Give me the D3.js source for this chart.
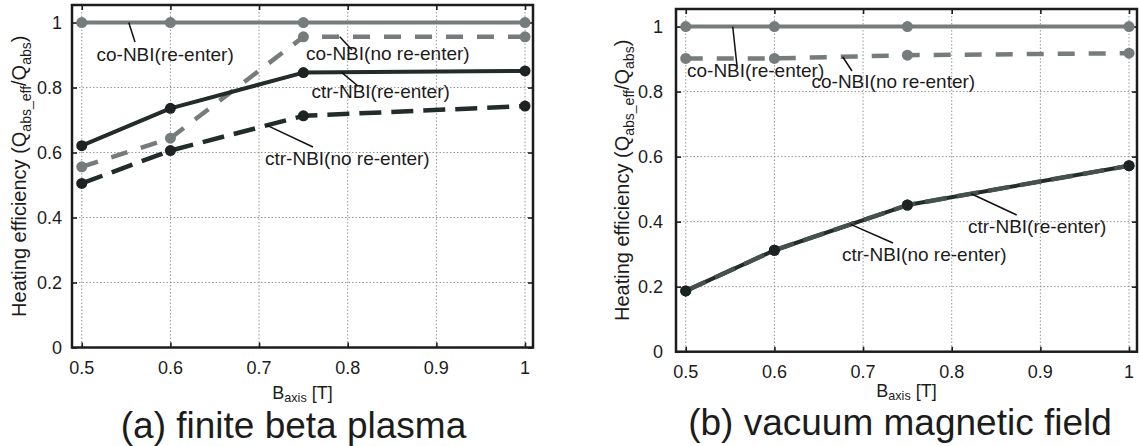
<!DOCTYPE html>
<html>
<head>
<meta charset="utf-8">
<script src="https://cdn.jsdelivr.net/npm/d3@7/dist/d3.min.js"></script>
<style>
  body { margin: 0; background: #fff; }
  svg { display: block; }
  text { font-family: "Liberation Sans", Arial, Helvetica, sans-serif; fill: #1c1c1c; }
</style>
</head>
<body>
<svg id="chart" width="1139" height="446"></svg>
<script>
// Magnetic field strength on axis [T] at which each case was computed
const fieldB = [0.5, 0.6, 0.75, 1.0];

// Axis ticks
const xTickValues = [0.5, 0.6, 0.7, 0.8, 0.9, 1];
const xTickLabels = ["0.5", "0.6", "0.7", "0.8", "0.9", "1"];
const yTickValues = [0, 0.2, 0.4, 0.6, 0.8, 1];
const yTickLabels = ["0", "0.2", "0.4", "0.6", "0.8", "1"];

const seriesNames = ["co-NBI(re-enter)", "co-NBI(no re-enter)", "ctr-NBI(re-enter)", "ctr-NBI(no re-enter)"];

// (a) finite beta plasma — heating efficiency Q_abs_eff / Q_abs
const finiteCoReenter   = [1.0, 1.0, 1.0, 1.0];
const finiteCoNoReenter = [0.556, 0.644, 0.956, 0.956];
const finiteCtrReenter  = [0.621, 0.736, 0.846, 0.851];
const finiteCtrNoReenter = [0.505, 0.606, 0.713, 0.743];

// (b) vacuum magnetic field
const vacuumCoReenter   = [1.0, 1.0, 1.0, 1.0];
const vacuumCoNoReenter = [0.902, 0.902, 0.912, 0.918];
const vacuumCtrReenter  = [0.187, 0.312, 0.451, 0.572];
const vacuumCtrNoReenter = [0.187, 0.312, 0.451, 0.572];

const captions = ["(a) finite beta plasma", "(b) vacuum magnetic field"];

// Line styles per series (same order as seriesNames)
const GRAY = "#767c7c", DARK = "#222c2b";
const seriesStyle = [
  { color: GRAY, width: 4,   dash: null },
  { color: GRAY, width: 4.5, dash: "17,14" },
  { color: DARK, width: 4,   dash: null },
  { color: DARK, width: 4.5, dash: "22,10" }
];

// Panel layout; label leaders start on a series at a given B and end at a pixel point
const panels = [
  {
    box: { left: 72, top: 5, right: 533, bottom: 347.5 },
    series: [finiteCoReenter, finiteCoNoReenter, finiteCtrReenter, finiteCtrNoReenter],
    caption: captions[0], capX: 293.5, capY: 438,
    xTitleY: 398.5, yTitleX: 26, yTickGap: 10,
    labels: [
      { s: 0, tx: 96.5, ty: 61,  at: 0.553, end: [135, 42] },
      { s: 1, tx: 306,  ty: 60,  at: 0.791, end: [352, 50] },
      { s: 2, tx: 311.5, ty: 98, at: 0.793, end: [358, 86] },
      { s: 3, tx: 265,  ty: 165, at: 0.709, end: [313, 147] }
    ]
  },
  {
    box: { left: 676, top: 9, right: 1137, bottom: 351.7 },
    series: [vacuumCoReenter, vacuumCoNoReenter, vacuumCtrReenter, vacuumCtrNoReenter],
    caption: captions[1], capX: 900, capY: 435,
    xTitleY: 396.5, yTitleX: 629, yTickGap: 13,
    labels: [
      { s: 0, tx: 687,   ty: 77,  at: 0.553, end: [737, 66] },
      { s: 1, tx: 811.5, ty: 88,  at: 0.677, end: [852, 71] },
      { s: 2, tx: 968,   ty: 233, at: 0.822, end: [1016.7, 215] },
      { s: 3, tx: 842,   ty: 261, at: 0.686, end: [893, 243] }
    ]
  }
];

const svg = d3.select("#chart");
svg.append("rect").attr("width", 1139).attr("height", 446).attr("fill", "#fff");

panels.forEach((p, pi) => {
  const b = p.box;
  const x = d3.scaleLinear().domain([0.489, 1.009]).range([b.left, b.right]);
  const y = d3.scaleLinear().domain([0, 1.054]).range([b.bottom, b.top]);
  const g = svg.append("g");
  const clipId = "clip" + pi;
  svg.append("clipPath").attr("id", clipId)
    .append("rect").attr("x", b.left).attr("y", b.top)
    .attr("width", b.right - b.left).attr("height", b.bottom - b.top);

  // dotted grid
  const grid = g.append("g").attr("stroke", "#8a8a8a").attr("stroke-width", 0.9)
    .attr("stroke-dasharray", "1.5,2");
  xTickValues.forEach(v => grid.append("line")
    .attr("x1", x(v)).attr("x2", x(v)).attr("y1", b.top).attr("y2", b.bottom));
  yTickValues.forEach(v => grid.append("line")
    .attr("x1", b.left).attr("x2", b.right).attr("y1", y(v)).attr("y2", y(v)));

  // inward ticks on all four sides
  const tickLen = 5;
  const bottomAxis = d3.axisBottom(x).tickValues(xTickValues).tickSize(-tickLen).tickFormat("");
  const topAxis = d3.axisTop(x).tickValues(xTickValues).tickSize(-tickLen).tickFormat("");
  const leftAxis = d3.axisLeft(y).tickValues(yTickValues).tickSize(-tickLen).tickFormat("");
  const rightAxis = d3.axisRight(y).tickValues(yTickValues).tickSize(-tickLen).tickFormat("");
  [[bottomAxis, `translate(0,${b.bottom})`], [topAxis, `translate(0,${b.top})`],
   [leftAxis, `translate(${b.left},0)`], [rightAxis, `translate(${b.right},0)`]].forEach(([ax, tr]) => {
    const a = g.append("g").attr("transform", tr).call(ax);
    a.select(".domain").remove();
    a.selectAll(".tick line").attr("stroke", "#1c1c1c").attr("stroke-width", 1.6);
  });

  // tick labels
  xTickValues.forEach((v, i) => g.append("text")
    .attr("x", x(v)).attr("y", b.bottom + 26).attr("text-anchor", "middle")
    .attr("font-size", 18).text(xTickLabels[i]));
  yTickValues.forEach((v, i) => g.append("text")
    .attr("x", b.left - p.yTickGap).attr("y", y(v) + 6.5).attr("text-anchor", "end")
    .attr("font-size", 18).text(yTickLabels[i]));

  // series
  const line = d3.line().x((d, i) => x(fieldB[i])).y(d => y(d));
  const lines = g.append("g").attr("clip-path", `url(#${clipId})`);
  p.series.forEach((vals, si) => {
    const st = seriesStyle[si];
    let color = st.color;
    // in the vacuum panel the two ctr curves coincide; the dashed one shows lighter on top
    if (pi === 1 && si === 3) color = "#46514f";
    lines.append("path").datum(vals)
      .attr("d", line).attr("fill", "none")
      .attr("stroke", color).attr("stroke-width", st.width)
      .attr("stroke-dasharray", st.dash)
      .attr("stroke-linejoin", "round");
    lines.selectAll(null).data(vals).enter().append("circle")
      .attr("cx", (d, i) => x(fieldB[i])).attr("cy", d => y(d)).attr("r", 5.5)
      .attr("fill", si < 2 ? GRAY : "#1d2222");
  });

  // frame
  g.append("rect").attr("x", b.left).attr("y", b.top)
    .attr("width", b.right - b.left).attr("height", b.bottom - b.top)
    .attr("fill", "none").attr("stroke", "#1c1c1c").attr("stroke-width", 2.5);

  // series labels with leader lines
  p.labels.forEach(l => {
    const interp = d3.scaleLinear().domain(fieldB).range(p.series[l.s]);
    g.append("line")
      .attr("x1", x(l.at)).attr("y1", y(interp(l.at)))
      .attr("x2", l.end[0]).attr("y2", l.end[1])
      .attr("stroke", "#111").attr("stroke-width", 1.5);
    g.append("text").attr("x", l.tx).attr("y", l.ty)
      .attr("font-size", 19).text(seriesNames[l.s]);
  });

  // axis titles
  const cx = (b.left + b.right) / 2, cy = (b.top + b.bottom) / 2;
  const xt = g.append("text").attr("x", cx).attr("y", p.xTitleY)
    .attr("text-anchor", "middle").attr("font-size", 18);
  xt.append("tspan").text("B");
  xt.append("tspan").attr("font-size", 12.6).attr("dy", 3.5).text("axis");
  xt.append("tspan").attr("dy", -3.5).text(" [T]");

  const yt = g.append("text").attr("transform", `translate(${p.yTitleX},${cy}) rotate(-90)`)
    .attr("text-anchor", "middle").attr("font-size", 20);
  yt.append("tspan").text("Heating efficiency (Q");
  yt.append("tspan").attr("font-size", 14).attr("dy", 4.5).text("abs_eff");
  yt.append("tspan").attr("dy", -4.5).text("/Q");
  yt.append("tspan").attr("font-size", 14).attr("dy", 4.5).text("abs");
  yt.append("tspan").attr("dy", -4.5).text(")");

  // caption
  g.append("text").attr("x", p.capX).attr("y", p.capY)
    .attr("text-anchor", "middle").attr("font-size", 37).text(p.caption);
});
</script>
</body>
</html>
